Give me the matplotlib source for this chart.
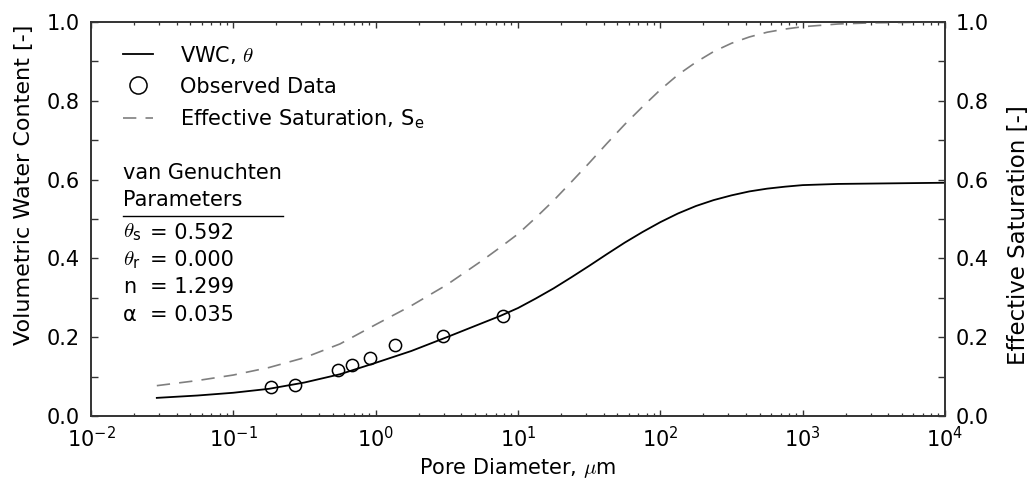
import matplotlib
matplotlib.use('Agg')
import matplotlib.pyplot as plt
from matplotlib.ticker import LogLocator, MultipleLocator, NullFormatter, FormatStrFormatter

plt.rcParams['font.family'] = ['DejaVu Sans']
plt.rcParams['mathtext.fontset'] = 'cm'
FS = 15

# ---- data ----
curve_diam_um = [0.029, 0.056, 0.1, 0.178, 0.316, 0.562, 1.0, 1.78, 3.16, 5.62,
                 7.5, 10.0, 13.3, 17.8, 23.7, 31.6, 42.2, 56.2, 75.0, 100.0,
                 133.0, 178.0, 237.0, 316.0, 422.0, 562.0, 750.0, 1000.0, 1778.0, 3162.0,
                 10000.0]
vwc_curve = [0.046, 0.052, 0.059, 0.069, 0.085, 0.106, 0.135, 0.165, 0.200, 0.236,
             0.254, 0.274, 0.298, 0.324, 0.352, 0.381, 0.411, 0.440, 0.467, 0.492,
             0.514, 0.533, 0.548, 0.560, 0.570, 0.577, 0.582, 0.586, 0.589, 0.590,
             0.592]
se_curve = [0.077, 0.090, 0.104, 0.123, 0.148, 0.183, 0.232, 0.280, 0.333, 0.395,
            0.428, 0.462, 0.503, 0.547, 0.594, 0.642, 0.692, 0.740, 0.785, 0.828,
            0.866, 0.898, 0.925, 0.946, 0.962, 0.974, 0.982, 0.988, 0.995, 0.998,
            1.000]

obs_diam_um = [0.183, 0.273, 0.547, 0.686, 0.913, 1.376, 2.97, 7.89]
obs_vwc = [0.074, 0.078, 0.117, 0.129, 0.146, 0.180, 0.204, 0.255]

param_symbols = [r'$\theta_\mathregular{s}$', r'$\theta_\mathregular{r}$', 'n', 'α']
param_values = [0.592, 0.000, 1.299, 0.035]

W, H = 1029, 492
fig = plt.figure(figsize=(W / 100, H / 100), dpi=100)
ax = fig.add_axes([91 / W, 76 / H, 854 / W, 394 / H])
ax2 = ax.twinx()

l1, = ax.plot(curve_diam_um, vwc_curve, color='black', lw=1.3)
l2, = ax.plot(obs_diam_um, obs_vwc, 'o', mfc='none', mec='black', ms=8.8, mew=1.1)
l3, = ax2.plot(curve_diam_um, se_curve, color='#7f7f7f', lw=1.2, dashes=(8, 5.5))

ax.set_xscale('log')
ax.set_xlim(1e-2, 1e4)
ax.set_ylim(0, 1)
ax2.set_ylim(0, 1)

ax.xaxis.set_major_locator(LogLocator(base=10, numticks=20))
ax.xaxis.set_minor_locator(LogLocator(base=10, subs=range(2, 10), numticks=50))
ax.xaxis.set_minor_formatter(NullFormatter())
for a in (ax, ax2):
    a.yaxis.set_major_locator(MultipleLocator(0.2))
    a.yaxis.set_minor_locator(MultipleLocator(0.1))
    a.yaxis.set_major_formatter(FormatStrFormatter('%.1f'))
    for s in a.spines.values():
        s.set_color('#333333')
        s.set_linewidth(1.2)

ax.tick_params(axis='x', which='both', direction='in', top=True, labelsize=FS, color='#333333', pad=7)
ax.tick_params(axis='x', which='major', length=4.5, width=1)
ax.tick_params(axis='x', which='minor', length=2.5, width=0.9)
ax.tick_params(axis='y', which='both', direction='in', right=False, labelsize=FS,
               length=5, width=1, color='#333333', pad=8)
ax2.tick_params(axis='y', which='both', direction='in', left=False, labelsize=FS,
                length=5, width=1, color='#333333', pad=8)

ax.set_xlabel(r'Pore Diameter, $\mu$m', fontsize=FS)
ax.set_ylabel('Volumetric Water Content [-]', fontsize=16)
ax2.set_ylabel('Effective Saturation [-]', fontsize=16.5)
ax.yaxis.set_label_coords(-0.067, 0.586)
ax2.yaxis.set_label_coords(1.073, 0.46)

ax2.legend([l1, l2, l3],
           [r'VWC, $\theta$', 'Observed Data', r'Effective Saturation, S$_\mathregular{e}$'],
           loc='upper left', bbox_to_anchor=(0.0375, 0.945), frameon=False,
           borderpad=0, borderaxespad=0, handlelength=1.45, handletextpad=1.3,
           labelspacing=0.52, fontsize=FS, markerscale=1.4)

ax2.text(0.0375, 0.617, 'van Genuchten', transform=ax.transAxes, fontsize=FS, va='center')
ax2.text(0.0375, 0.548, 'Parameters', transform=ax.transAxes, fontsize=FS, va='center')
ax2.plot([0.0375, 0.2248], [0.5076, 0.5076], transform=ax.transAxes, color='black', lw=1.0)
row_y = [0.4652, 0.396, 0.328, 0.256]
for sym, val, yy in zip(param_symbols, param_values, row_y):
    ax2.text(0.0375, yy, sym, transform=ax.transAxes, fontsize=FS, va='center')
    ax2.text(0.0691, yy, f'= {val:.3f}', transform=ax.transAxes, fontsize=FS, va='center')

fig.savefig('out.png', dpi=100)
